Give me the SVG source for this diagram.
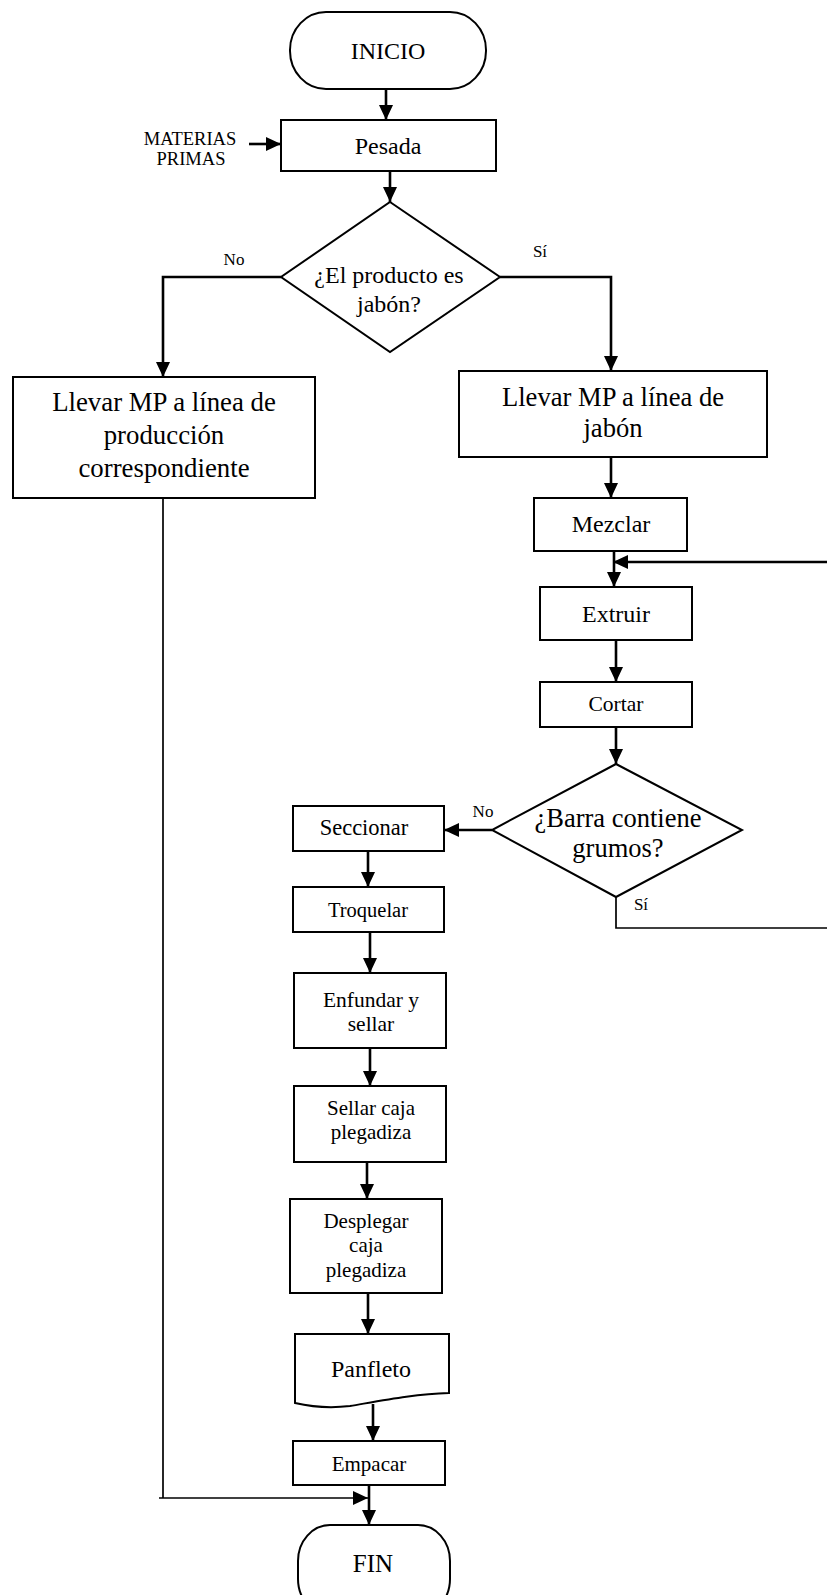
<svg xmlns="http://www.w3.org/2000/svg" width="827" height="1595" viewBox="0 0 827 1595">
  <style>
    .box { fill: #ffffff; stroke: #000000; stroke-width: 2; }
    .conn { fill: none; stroke: #000000; stroke-width: 2.6; }
    .thin { fill: none; stroke: #000000; stroke-width: 1.7; }
    text { font-family: "Liberation Serif", "Times New Roman", Tinos, serif; fill: #000000; text-anchor: middle; }
    .lbl { font-size: 17px; }
  </style>
  <defs>
    <marker id="arrow" viewBox="0 0 15 14" refX="15" refY="7" markerWidth="15" markerHeight="14" markerUnits="userSpaceOnUse" orient="auto">
      <path d="M0,0 L15,7 L0,14 Z" fill="#000000"/>
    </marker>
  </defs>
  <rect width="827" height="1595" fill="#ffffff"/>

  <!-- connectors -->
  <g id="connectors">
    <path class="conn" d="M386,89 V120" marker-end="url(#arrow)"/>
    <path class="conn" d="M249,144 H281" marker-end="url(#arrow)"/>
    <path class="conn" d="M390,171 V202" marker-end="url(#arrow)"/>
    <path class="conn" d="M281,277 H163 V377" marker-end="url(#arrow)"/>
    <path class="conn" d="M500,277 H611 V371" marker-end="url(#arrow)"/>
    <path class="conn" d="M611,457 V498" marker-end="url(#arrow)"/>
    <path class="conn" d="M614,551 V587" marker-end="url(#arrow)"/>
    <path class="conn" d="M616,640 V682" marker-end="url(#arrow)"/>
    <path class="conn" d="M616,727 V764" marker-end="url(#arrow)"/>
    <path class="conn" d="M492,830 H444" marker-end="url(#arrow)"/>
    <path class="thin" d="M616,897 V928 H830"/>
    <path class="conn" d="M830,928 V562 H613" marker-end="url(#arrow)"/>
    <path class="conn" d="M368,851 V887" marker-end="url(#arrow)"/>
    <path class="conn" d="M370,932 V973" marker-end="url(#arrow)"/>
    <path class="conn" d="M370,1048 V1086" marker-end="url(#arrow)"/>
    <path class="conn" d="M367,1162 V1199" marker-end="url(#arrow)"/>
    <path class="conn" d="M368,1293 V1334" marker-end="url(#arrow)"/>
    <path class="conn" d="M373,1404 V1441" marker-end="url(#arrow)"/>
    <path class="conn" d="M369,1485 V1525" marker-end="url(#arrow)"/>
    <path class="thin" d="M163,498 V1498"/>
    <path class="thin" d="M159,1498 H368" marker-end="url(#arrow)"/>
    <text class="lbl" x="234" y="265">No</text>
    <text class="lbl" x="540" y="257">Sí</text>
    <text class="lbl" x="483" y="817">No</text>
    <text class="lbl" x="641" y="910">Sí</text>
  </g>

  <g id="inicio">
    <rect class="box" x="290" y="12" width="196" height="77" rx="36" ry="38"/>
    <text x="388" y="59" font-size="24">INICIO</text>
  </g>

  <g id="materias-primas">
    <text x="190" y="145" font-size="18.5">MATERIAS</text>
    <text x="191" y="165" font-size="18.5">PRIMAS</text>
  </g>

  <g id="pesada">
    <rect class="box" x="281" y="120" width="215" height="51"/>
    <text x="388" y="154" font-size="24">Pesada</text>
  </g>

  <g id="decision-jabon">
    <polygon class="box" points="390,202 500,277 390,352 281,277"/>
    <text x="389" y="283" font-size="24">¿El producto es</text>
    <text x="389" y="312" font-size="24">jabón?</text>
  </g>

  <g id="otra-linea">
    <rect class="box" x="13" y="377" width="302" height="121"/>
    <text x="164" y="411" font-size="26.8">Llevar MP a línea de</text>
    <text x="164" y="444" font-size="26.8">producción</text>
    <text x="164" y="477" font-size="26.8">correspondiente</text>
  </g>

  <g id="linea-jabon">
    <rect class="box" x="459" y="371" width="308" height="86"/>
    <text x="613" y="406" font-size="26.6">Llevar MP a línea de</text>
    <text x="613" y="437" font-size="26.6">jabón</text>
  </g>

  <g id="mezclar">
    <rect class="box" x="534" y="498" width="153" height="53"/>
    <text x="611" y="532" font-size="24">Mezclar</text>
  </g>

  <g id="extruir">
    <rect class="box" x="540" y="587" width="152" height="53"/>
    <text x="616" y="622" font-size="24">Extruir</text>
  </g>

  <g id="cortar">
    <rect class="box" x="540" y="682" width="152" height="45"/>
    <text x="616" y="711" font-size="21.5">Cortar</text>
  </g>

  <g id="decision-grumos">
    <polygon class="box" points="616,764 742,830 616,897 492,830"/>
    <text x="618" y="827" font-size="26.5">¿Barra contiene</text>
    <text x="618" y="857" font-size="26.5">grumos?</text>
  </g>

  <g id="seccionar">
    <rect class="box" x="293" y="806" width="151" height="45"/>
    <text x="364" y="835" font-size="22.5">Seccionar</text>
  </g>

  <g id="troquelar">
    <rect class="box" x="293" y="887" width="151" height="45"/>
    <text x="368" y="917" font-size="20.5">Troquelar</text>
  </g>

  <g id="enfundar">
    <rect class="box" x="294" y="973" width="152" height="75"/>
    <text x="371" y="1007" font-size="21.5">Enfundar y</text>
    <text x="371" y="1031" font-size="21.5">sellar</text>
  </g>

  <g id="sellar-caja">
    <rect class="box" x="294" y="1086" width="152" height="76"/>
    <text x="371" y="1115" font-size="21">Sellar caja</text>
    <text x="371" y="1139" font-size="21">plegadiza</text>
  </g>

  <g id="desplegar">
    <rect class="box" x="290" y="1199" width="152" height="94"/>
    <text x="366" y="1228" font-size="21">Desplegar</text>
    <text x="366" y="1252" font-size="21">caja</text>
    <text x="366" y="1277" font-size="21">plegadiza</text>
  </g>

  <g id="panfleto">
    <path class="box" d="M295,1334 H449 V1393 C415,1394 385,1400 350,1406 C325,1409 308,1406 295,1403 Z"/>
    <text x="371" y="1377" font-size="24">Panfleto</text>
  </g>

  <g id="empacar">
    <rect class="box" x="293" y="1441" width="152" height="44"/>
    <text x="369" y="1471" font-size="21">Empacar</text>
  </g>

  <g id="fin">
    <rect class="box" x="298" y="1525" width="152" height="90" rx="32" ry="36"/>
    <text x="373" y="1572" font-size="25">FIN</text>
  </g>
</svg>
